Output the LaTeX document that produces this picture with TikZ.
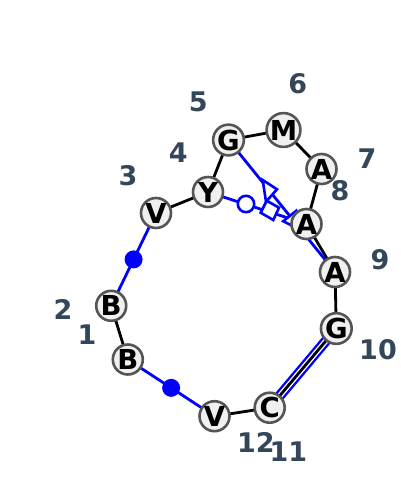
\documentclass[tikz,border=0pt]{standalone}
\usepackage{fontspec}
\setmainfont{DejaVu Sans}
\definecolor{nodefill}{RGB}{240,240,240}
\definecolor{nodeline}{RGB}{85,85,85}
\definecolor{labcol}{RGB}{52,70,90}
\definecolor{pairblue}{RGB}{0,0,255}
\tikzset{
  nt/.style={circle, draw=nodeline, fill=nodefill, line width=2.6pt, minimum size=30pt, inner sep=0pt, font=\bfseries\fontsize{27.5}{27.5}\selectfont},
  num/.style={text=labcol, inner sep=0pt, font=\bfseries\fontsize{27}{27}\selectfont},
  bb/.style={draw=black, line width=2.8pt},
  bp/.style={draw=pairblue, line width=2.8pt},
  sym/.style={draw=pairblue, fill=white, line width=2.6pt, line join=miter},
  dotsym/.style={circle, fill=pairblue, minimum size=18pt, inner sep=0pt}
}
\begin{document}
\begin{tikzpicture}[x=1pt,y=-1pt]
\useasboundingbox (0,0) rectangle (400,498);
% node positions
\coordinate (p1) at (127.8,359.5);
\coordinate (p2) at (111.2,305.8);
\coordinate (p3) at (156,213);
\coordinate (p4) at (208,192);
\coordinate (p5) at (228.5,140);
\coordinate (p6) at (283.5,130);
\coordinate (p7) at (321.5,169);
\coordinate (p8) at (306.5,224);
\coordinate (p9) at (335,272);
\coordinate (p10) at (336.3,328.5);
\coordinate (p11) at (269.7,407.7);
\coordinate (p12) at (214.5,416.2);
% backbone
\draw[bb] (p1) -- (p2);
\draw[bb] (p3) -- (p4);
\draw[bb] (p4) -- (p5);
\draw[bb] (p5) -- (p6);
\draw[bb] (p6) -- (p7);
\draw[bb] (p7) -- (p8);
\draw[bb] (p8) -- (p9);
\draw[bb] (p9) -- (p10);
% double pair G10-C11
\draw[draw=pairblue, line width=2.4pt, double=white, double distance=5.5pt] (p10) -- (p11);
\draw[bb] (p10) -- (p11);
\draw[bb] (p11) -- (p12);
% canonical pairs with dots
\draw[bp] (p2) -- (p3) node[dotsym, midway] (d1) {};
\draw[bp] (p1) -- (p12) node[dotsym, midway] (d2) {};
% non-canonical pairs
\draw[bp] (p5) -- (p9);
\draw[bp] (p4) -- (p8);
% symbols
\draw[sym] (262.7,180) -- (277,189.3) -- (266,201.7) -- cycle;
\draw[sym] (300.8,230) -- (296.2,210.8) -- (283.2,221.2) -- cycle;
\draw[sym] (246,204) circle (8.2pt);
\draw[sym] (266.7,200.7) -- (279,207.7) -- (273.3,220) -- (260.7,212.7) -- cycle;
% nodes
\node[nt] (n1) at (p1) {B};
\node[nt] (n2) at (p2) {B};
\node[nt] (n3) at (p3) {V};
\node[nt] (n4) at (p4) {Y};
\node[nt] (n5) at (p5) {G};
\node[nt] (n6) at (p6) {M};
\node[nt] (n7) at (p7) {A};
\node[nt] (n8) at (p8) {A};
\node[nt] (n9) at (p9) {A};
\node[nt] (n10) at (p10) {G};
\node[nt] (n11) at (p11) {C};
\node[nt] (n12) at (p12) {V};
% numbers
\node[num] (l1) at (87,335) {1};
\node[num] (l2) at (63,309) {2};
\node[num] (l3) at (128,176) {3};
\node[num] (l4) at (178.3,153) {4};
\node[num] (l5) at (198.3,102) {5};
\node[num] (l6) at (297.7,84) {6};
\node[num] (l7) at (367,159) {7};
\node[num] (l8) at (340,191) {8};
\node[num] (l9) at (380,260) {9};
\node[num] (l10) at (378,350) {10};
\node[num] (l11) at (288.3,452) {11};
\node[num] (l12) at (255.8,442) {12};
\end{tikzpicture}
\end{document}
